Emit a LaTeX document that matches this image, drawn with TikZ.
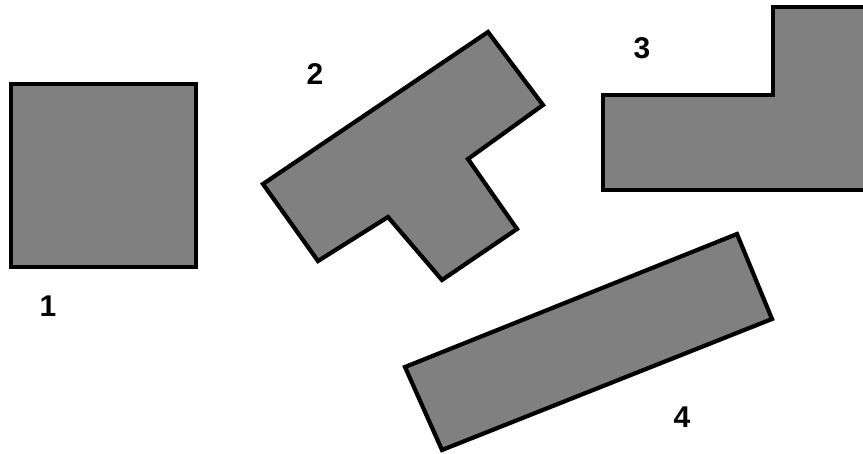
\documentclass[tikz,border=0pt]{standalone}
\usepackage{fontspec}
\setmainfont{Liberation Sans}
\begin{document}
\begin{tikzpicture}[x=1pt,y=-1pt,
  shapebox/.style={draw=black, fill={rgb,255:red,128;green,128;blue,128}, line width=4.2pt, line join=miter},
  lbl/.style={font=\fontsize{30}{30}\selectfont\bfseries, inner sep=0pt}]
\useasboundingbox (0,0) rectangle (863,454);
\begin{scope}
\clip (0,0) rectangle (863,454);
% 1
\draw[shapebox] (11,84) -- (196,84) -- (196,267) -- (11,267) -- cycle;
% 2
\draw[shapebox] (488,32) -- (543,105) -- (468,159) -- (517,229) -- (442,280) -- (388,217) -- (318,261) -- (263,184) -- cycle;
% 3
\draw[shapebox] (773,7) -- (875,7) -- (875,190) -- (603,190) -- (603,95) -- (773,95) -- cycle;
% 4
\draw[shapebox] (737,234) -- (772,319) -- (442,450) -- (405,367) -- cycle;
\end{scope}
\node[lbl] (l1) at (48,306) {1};
\node[lbl] (l2) at (315,74) {2};
\node[lbl] (l3) at (642,48) {3};
\node[lbl] (l4) at (682,417) {4};
\end{tikzpicture}
\end{document}
